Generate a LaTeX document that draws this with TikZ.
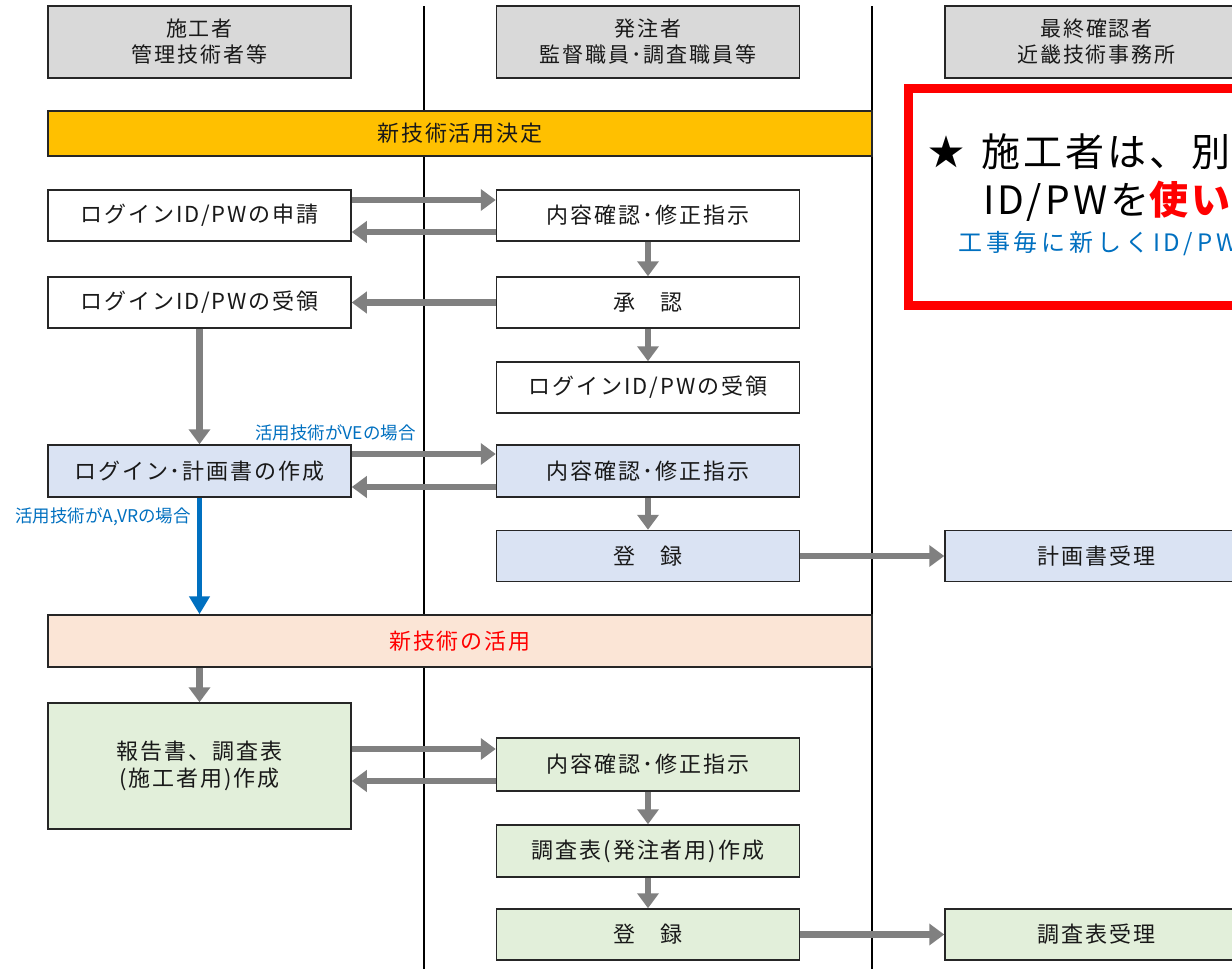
\documentclass[tikz,border=0pt]{standalone}
\usepackage{fontspec}
\setmainfont{Noto Sans CJK JP}
\usetikzlibrary{arrows.meta}
\definecolor{hdrfill}{HTML}{D9D9D9}
\definecolor{orangefill}{HTML}{FFC000}
\definecolor{bluefill}{HTML}{DAE3F3}
\definecolor{pinkfill}{HTML}{FBE5D6}
\definecolor{greenfill}{HTML}{E2EFDA}
\definecolor{arrowgray}{HTML}{808080}
\definecolor{labelblue}{HTML}{0070C0}
\definecolor{boxline}{HTML}{262626}
\newfontfamily\boxfont[LetterSpace=9]{Noto Sans CJK JP}
\newfontfamily\bigfont[LetterSpace=8]{Noto Sans CJK JP}
\newfontfamily\notefont[LetterSpace=16]{Noto Sans CJK JP}
\tikzset{
  base/.style={draw=boxline, line width=1.5pt, rectangle, inner sep=0pt, align=center, text=black!90, font=\boxfont\fontsize{22}{27}\selectfont},
  hdr/.style={base, fill=hdrfill, minimum width=303pt, minimum height=72pt, font=\boxfont\fontsize{21}{26}\selectfont},
  wbox/.style={base, fill=white, minimum width=303pt, minimum height=51pt},
  bbox/.style={base, fill=bluefill, minimum width=303pt, minimum height=51pt},
  gbox/.style={base, fill=greenfill, minimum width=303pt, minimum height=52pt},
  garrow/.style={draw=arrowgray, line width=6.5pt, -{Triangle[length=15pt,width=21pt]}, color=arrowgray},
  barrow/.style={draw=labelblue, line width=5pt, -{Triangle[length=18pt,width=20pt]}, color=labelblue},
  blbl/.style={text=labelblue, font=\fontsize{17.5}{20}\selectfont, inner sep=0pt},
}
\begin{document}
\begin{tikzpicture}[x=1pt, y=-1pt]
\useasboundingbox (0,0) rectangle (1232,969);
\clip (0,0) rectangle (1232,969);
\fill[white] (0,0) rectangle (1232,969);
% lane separators
\draw[line width=1.5pt] (424,6) -- (424,969);
\draw[line width=1.5pt] (872,6) -- (872,969);
% headers
\node[hdr] (h1) at (199.5,42) {施工者\\管理技術者等};
\node[hdr] (h2) at (648,42) {発注者\\監督職員･調査職員等};
\node[hdr] (h3) at (1096.5,42) {最終確認者\\近畿技術事務所};
% decision bar
\node[base, fill=orangefill, minimum width=824pt, minimum height=45pt] (dec) at (460,133.5) {新技術活用決定};
% rows
\node[wbox] (a1) at (199.5,215.5) {ログインID/PWの申請};
\node[wbox] (b1) at (648,215.5) {内容確認･修正指示};
\node[wbox] (a2) at (199.5,302.5) {ログインID/PWの受領};
\node[wbox] (b2) at (648,302.5) {承　認};
\node[wbox] (b3) at (648,387.5) {ログインID/PWの受領};
\node[bbox, minimum height=52pt] (a3) at (199.5,471) {ログイン･計画書の作成};
\node[bbox, minimum height=52pt] (b4) at (648,471) {内容確認･修正指示};
\node[bbox] (b5) at (648,556) {登　録};
\node[bbox] (c1) at (1096.5,556) {計画書受理};
\node[base, fill=pinkfill, minimum width=824pt, minimum height=52pt, text=red] (use) at (460,641) {新技術の活用};
\node[gbox, minimum height=126pt] (a4) at (199.5,766) {報告書、調査表\\(施工者用)作成};
\node[gbox, minimum height=53pt] (b6) at (648,764.5) {内容確認･修正指示};
\node[gbox] (b7) at (648,851) {調査表(発注者用)作成};
\node[gbox, minimum height=51pt] (b8) at (648,934.5) {登　録};
\node[gbox, minimum height=51pt] (c2) at (1096.5,934.5) {調査表受理};
% horizontal arrows
\draw[garrow] ([yshift=15.5pt]a1.east) -- ([yshift=15.5pt]b1.west);
\draw[garrow] ([yshift=-16.5pt]b1.west) -- ([yshift=-16.5pt]a1.east);
\draw[garrow] (b2.west) -- (a2.east);
\draw[garrow] ([yshift=17pt]a3.east) -- ([yshift=17pt]b4.west);
\draw[garrow] ([yshift=-16pt]b4.west) -- ([yshift=-16pt]a3.east);
\draw[garrow] (b5.east) -- (c1.west);
\coordinate (r1) at ([yshift=15.5pt]b6.west);
\coordinate (r2) at ([yshift=-16.5pt]b6.west);
\draw[garrow] (r1 -| a4.east) -- (r1);
\draw[garrow] (r2) -- (r2 -| a4.east);
\draw[garrow] (b8.east) -- (c2.west);
% vertical arrows
\draw[garrow] (b1.south) -- (b2.north);
\draw[garrow] (b2.south) -- (b3.north);
\draw[garrow] (a2.south) -- (a3.north);
\draw[garrow] (b4.south) -- (b5.north);
\draw[barrow] (a3.south) -- (a3.south |- use.north);
\draw[garrow] (use.south -| a4.north) -- (a4.north);
\draw[garrow] (b6.south) -- (b7.north);
\draw[garrow] (b7.south) -- (b8.north);
% labels
\node[blbl, anchor=east] (lve) at (416,433) {活用技術がVEの場合};
\node[blbl, anchor=east] (lavr) at (191,517) {活用技術がA,VRの場合};
% note box
\draw[red, line width=9pt] (908.5,88.5) rectangle (1300,305);
\node[anchor=west, inner sep=0pt, font=\fontsize{36}{40}\selectfont] (star) at (928,152) {★};
\node[anchor=west, inner sep=0pt, font=\bigfont\fontsize{39}{44}\selectfont] (n1) at (981,152) {施工者は、別};
\node[anchor=west, inner sep=0pt, font=\bigfont\fontsize{39}{44}\selectfont] (n2) at (983,201) {ID/PWを\textcolor{red}{\bfseries 使い}};
\node[anchor=west, inner sep=0pt, text=labelblue, font=\notefont\fontsize{24}{28}\selectfont] (n3) at (958,244) {工事毎に新しくID/PW};
\end{tikzpicture}
\end{document}
